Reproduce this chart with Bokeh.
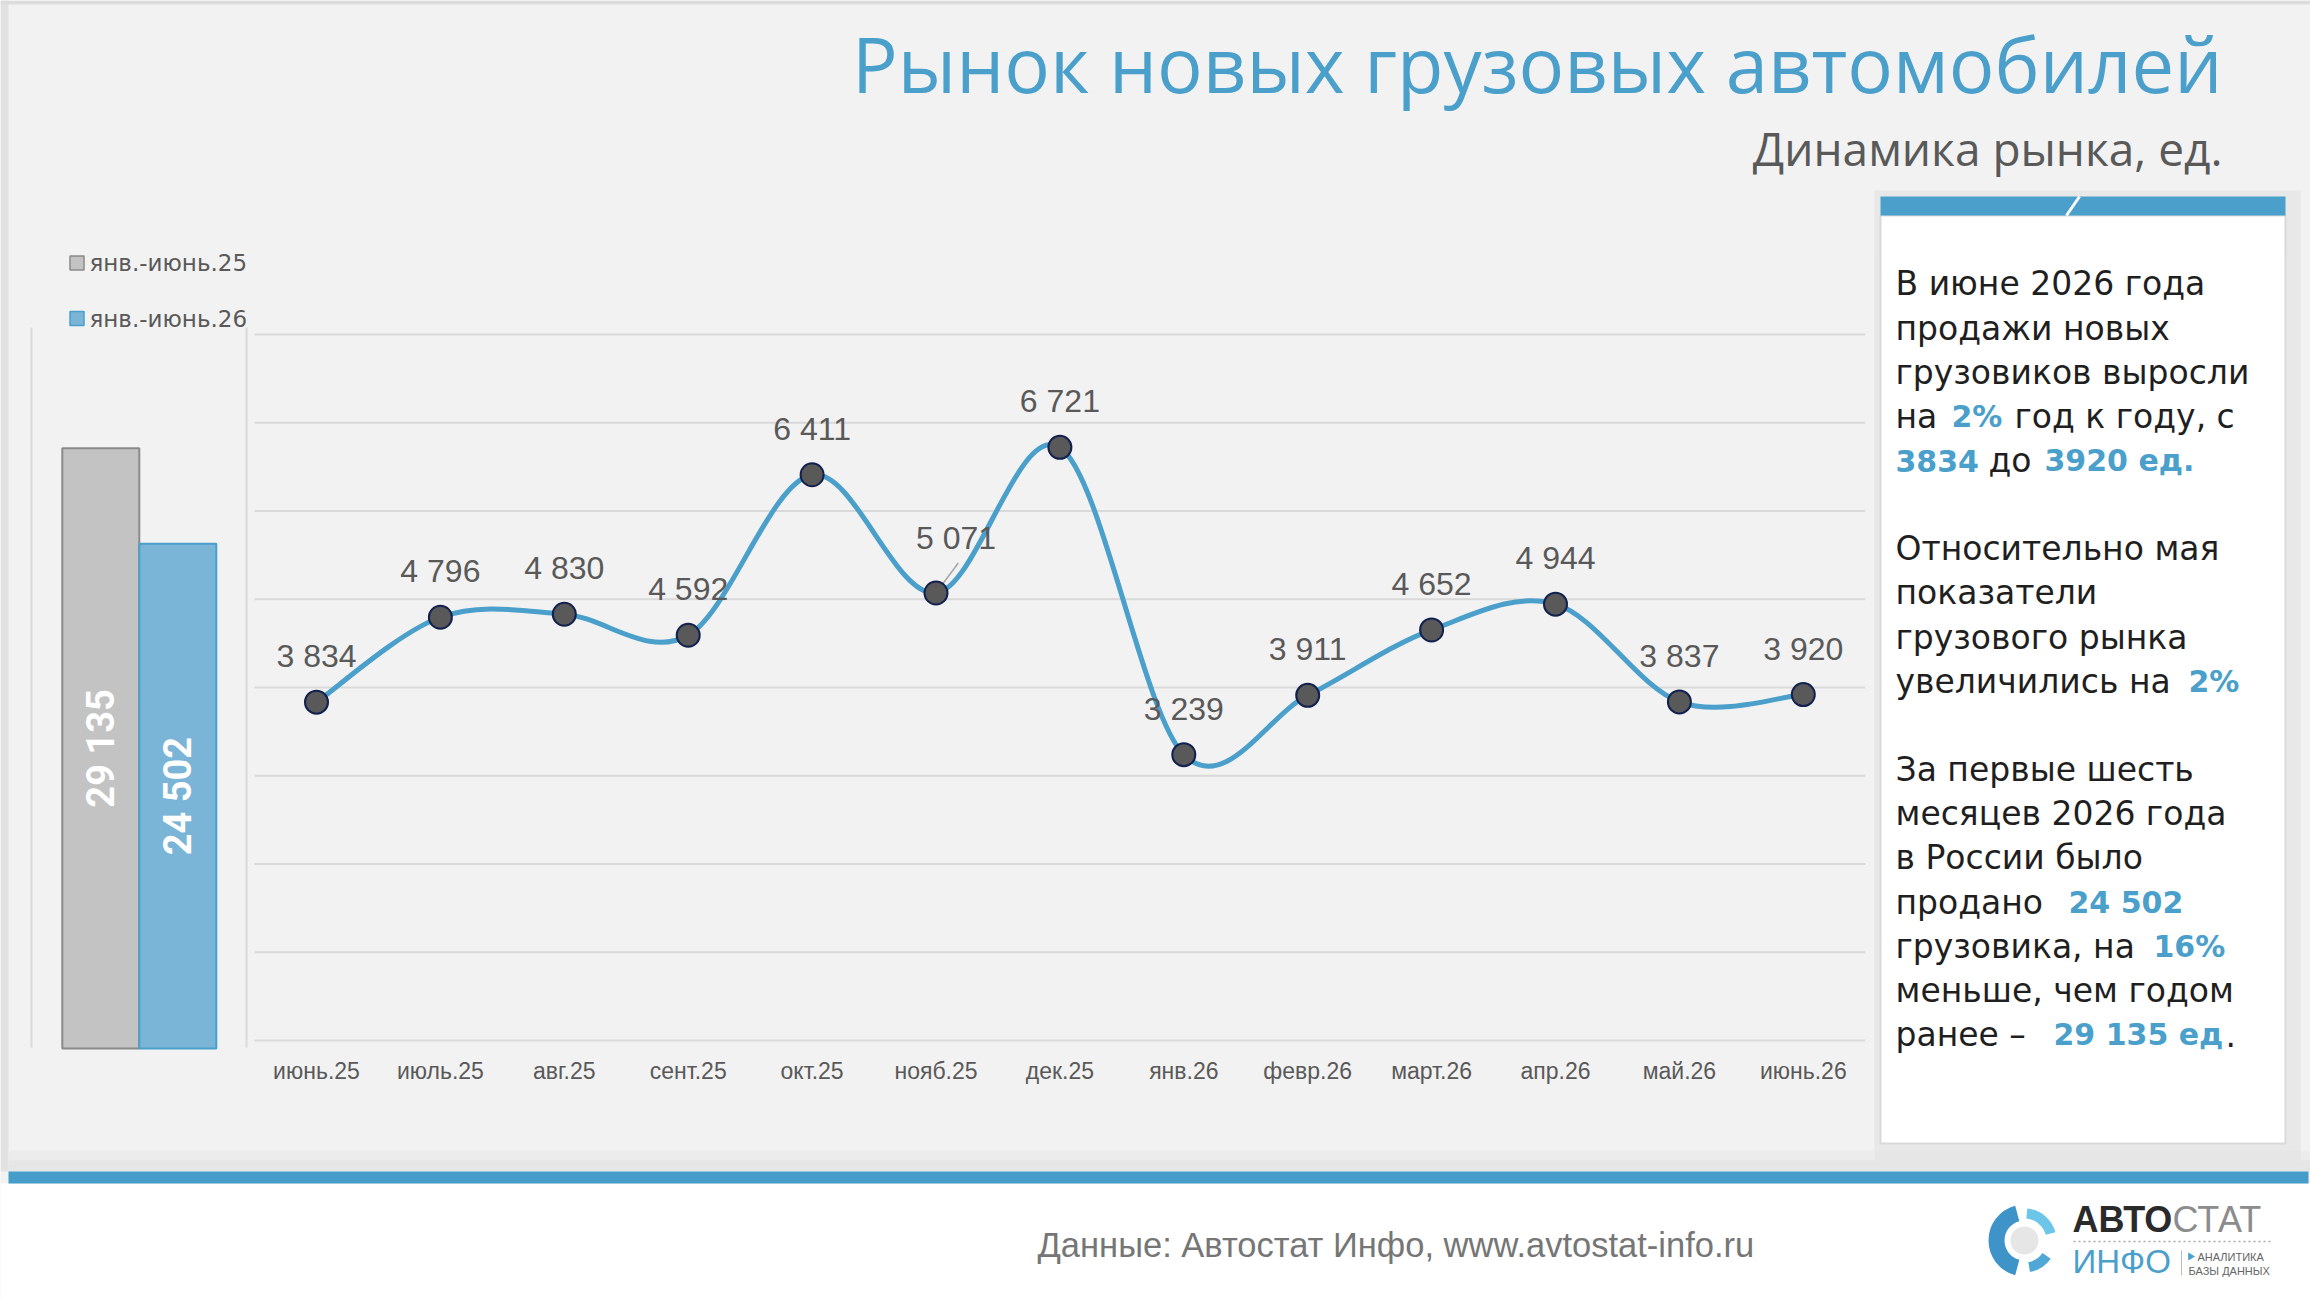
import math
import numpy as np
from bokeh.plotting import figure
from bokeh.models import Range1d, ColumnDataSource
from bokeh.core.properties import value
from bokeh.embed import file_html
from bokeh.resources import INLINE

# ---------------- data ----------------
months = ["июнь.25", "июль.25", "авг.25", "сент.25", "окт.25", "нояб.25", "дек.25",
          "янв.26", "февр.26", "март.26", "апр.26", "май.26", "июнь.26"]
sales = [3834, 4796, 4830, 4592, 6411, 5071, 6721, 3239, 3911, 4652, 4944, 3837, 3920]
ytd_labels = ["янв.-июнь.25", "янв.-июнь.26"]
ytd_values = [29135, 24502]
y_ticks = [0, 1000, 2000, 3000, 4000, 5000, 6000, 7000, 8000]

title_text = "Рынок новых грузовых автомобилей"
subtitle_text = "Динамика рынка, ед."
footer_text = "Данные: Автостат Инфо, www.avtostat-info.ru"

# ---------------- style / layout ----------------
W, H = 2310, 1300
BLUE = "#4A9FCB"
GRAY_TXT = "#595959"
GRID = "#D9D9D9"

L_X0, L_CAT = 316.0, 123.9
L_BOTTOM, L_TOP, L_YMAX = 1040.0, 334.0, 8000.0
B_X0, B_W = 100.3, 77.0
B_BOTTOM, B_TOP, B_YMAX = 1048.0, 327.0, 35000.0


def fmt(v):
    return f"{v:,}".replace(",", " ")


def base(y, size):
    # place the alphabetic baseline of a text of the given px size at y
    return y - 0.39 * size


p = figure(width=W, height=H, x_range=Range1d(0, W), y_range=Range1d(H, 0),
           x_axis_type=None, y_axis_type=None, toolbar_location=None,
           output_backend="svg", min_border=0, title=None,
           background_fill_color="#F2F2F2", border_fill_color="#F2F2F2",
           outline_line_color=None)

kx = L_CAT
ky = (L_BOTTOM - L_TOP) / L_YMAX
p.extra_x_ranges["mx"] = Range1d(-L_X0 / kx, (W - L_X0) / kx)
p.extra_y_ranges["my"] = Range1d((L_BOTTOM - H) / ky, L_BOTTOM / ky)
kb = (B_BOTTOM - B_TOP) / B_YMAX
p.extra_x_ranges["bx"] = Range1d(-B_X0 / B_W, (W - B_X0) / B_W)
p.extra_y_ranges["by"] = Range1d((B_BOTTOM - H) / kb, B_BOTTOM / kb)

# ---------------- slide decoration ----------------
p.quad(left=[0], right=[8], top=[0], bottom=[1171], fill_color="#E2E2E2", line_color=None)
p.quad(left=[0], right=[W], top=[0], bottom=[4], fill_color="#DCDCDC", line_color=None)
p.quad(left=[8], right=[W], top=[1150], bottom=[1171], fill_color="#ECECEC", line_color=None)
p.quad(left=[8], right=[W], top=[1160], bottom=[1171], fill_color="#E6E6E6", line_color=None)
p.quad(left=[0], right=[W], top=[1183], bottom=[H], fill_color="#FFFFFF", line_color=None)
p.quad(left=[8], right=[2308], top=[1171], bottom=[1183], fill_color="#479DC9", line_color=None)

# title & subtitle
p.text(x=[2222], y=[base(93, 76)], text=[title_text], text_align="right", text_baseline="alphabetic",
       text_font=value("Open Sans"), text_font_size="76px", text_color=BLUE)
p.text(x=[2222], y=[base(165, 46)], text=[subtitle_text], text_align="right", text_baseline="alphabetic",
       text_font=value("Open Sans"), text_font_size="46px", text_color=GRAY_TXT)

# ---------------- right info panel ----------------
p.quad(left=[1874], right=[2300], top=[190], bottom=[1160], fill_color="#E4E4E4", line_color=None, fill_alpha=0.7)
p.quad(left=[1880], right=[2285], top=[215], bottom=[1143], fill_color="#FFFFFF",
       line_color="#D9D9D9", line_width=2)
p.quad(left=[1880], right=[2285], top=[196], bottom=[215], fill_color=BLUE, line_color=None)
p.segment(x0=[2066], y0=[215], x1=[2079], y1=[196], line_color="#FFFFFF", line_width=3)

LINE0, LSTEP = 296.3, 44.15
segments = [
    (0, 1895, "В июне 2026 года", False),
    (1, 1895, "продажи новых", False),
    (2, 1895, "грузовиков выросли", False),
    (3, 1895, "на", False), (3, 1951, "2%", True), (3, 2014, "год к году, с", False),
    (4, 1895, "3834", True), (4, 1988, "до", False), (4, 2044, "3920 ед.", True),
    (6, 1895, "Относительно мая", False),
    (7, 1895, "показатели", False),
    (8, 1895, "грузового  рынка", False),
    (9, 1895, "увеличились на", False), (9, 2188, "2%", True),
    (11, 1895, "За первые шесть", False),
    (12, 1895, "месяцев 2026 года", False),
    (13, 1895, "в России было", False),
    (14, 1895, "продано", False), (14, 2068, "24 502", True),
    (15, 1895, "грузовика, на", False), (15, 2153, "16%", True),
    (16, 1895, "меньше, чем годом", False),
    (17, 1895, "ранее –", False), (17, 2053, "29 135 ед", True), (17, 2225, ".", False),
]
reg = [s for s in segments if not s[3]]
bld = [s for s in segments if s[3]]
p.text(x=[s[1] for s in reg], y=[base(LINE0 + LSTEP * s[0], 33) for s in reg], text=[s[2] for s in reg],
       text_align="left", text_baseline="alphabetic", text_font=value("DejaVu Sans"),
       text_font_size="33px", text_color="#1F1F1F")
p.text(x=[s[1] for s in bld], y=[base(LINE0 + LSTEP * s[0], 33) for s in bld], text=[s[2] for s in bld],
       text_align="left", text_baseline="alphabetic", text_font=value("DejaVu Sans"),
       text_font_style="bold", text_font_size="30px", text_color=BLUE)

# ---------------- bar chart (Jan-Jun totals) ----------------
p.segment(x0=[31, 246], y0=[327, 327], x1=[31, 246], y1=[1047, 1047], line_color=GRID, line_width=2)
bar_src = ColumnDataSource(dict(x=[0, 1], top=ytd_values, half=[v / 2 for v in ytd_values],
                                lbl=[fmt(v) for v in ytd_values],
                                fill=["#C3C3C3", "#7AB4D6"], line=["#8A8A8A", BLUE]))
p.vbar(x="x", top="top", bottom=0, width=1.0, source=bar_src, fill_color="fill",
       line_color="line", line_width=2, x_range_name="bx", y_range_name="by")
p.text(x="x", y="half", text="lbl", source=bar_src, angle=math.pi / 2, text_align="center",
       text_baseline="middle", text_font=value("Roboto"), text_font_style="bold",
       text_font_size="38px", text_color="#FFFFFF", x_range_name="bx", y_range_name="by")

# legend for bars
p.scatter(x=[76.5, 76.5], y=[262.6, 318], marker="square", size=14,
          fill_color=["#C3C3C3", "#7AB4D6"], line_color=["#8A8A8A", BLUE], line_width=1.5)
p.text(x=[89, 89], y=[262.6, 318], text=ytd_labels, text_align="left", text_baseline="middle",
       text_font=value("DejaVu Sans"), text_font_size="23px", text_color=GRAY_TXT)

# ---------------- line chart ----------------
n = len(sales)
idx = list(range(n))
p.segment(x0=[-0.5] * len(y_ticks), x1=[n - 0.5] * len(y_ticks), y0=y_ticks, y1=y_ticks,
          line_color=GRID, line_width=2, x_range_name="mx", y_range_name="my")

P = np.column_stack([np.arange(n, dtype=float), np.array(sales, dtype=float)])
bz = dict(x0=[], y0=[], x1=[], y1=[], cx0=[], cy0=[], cx1=[], cy1=[])
for i in range(n - 1):
    a = P[i - 1] if i > 0 else P[i]
    d = P[i + 2] if i + 2 < n else P[i + 1]
    c1 = P[i] + (P[i + 1] - a) / 6.0
    c2 = P[i + 1] - (d - P[i]) / 6.0
    bz["x0"].append(P[i][0]); bz["y0"].append(P[i][1])
    bz["x1"].append(P[i + 1][0]); bz["y1"].append(P[i + 1][1])
    bz["cx0"].append(c1[0]); bz["cy0"].append(c1[1])
    bz["cx1"].append(c2[0]); bz["cy1"].append(c2[1])
p.bezier(source=ColumnDataSource(bz), x0="x0", y0="y0", x1="x1", y1="y1", cx0="cx0", cy0="cy0",
         cx1="cx1", cy1="cy1", line_color=BLUE, line_width=5, line_cap="round",
         x_range_name="mx", y_range_name="my")

lead_i = 5
p.segment(x0=[idx[lead_i] + 0.01], y0=[sales[lead_i] + 20], x1=[idx[lead_i] + 0.18],
          y1=[sales[lead_i] + 340], line_color="#A6A6A6", line_width=1.5,
          x_range_name="mx", y_range_name="my")

p.scatter(x=idx, y=sales, size=23, fill_color="#595959", line_color="#13214F", line_width=2,
          x_range_name="mx", y_range_name="my")

xo = [0] * n
yo = [-46] * n
xo[lead_i] = 20
yo[lead_i] = -55
lab_src = ColumnDataSource(dict(x=idx, y=sales, t=[fmt(v) for v in sales], xo=xo, yo=yo))
p.text(x="x", y="y", text="t", source=lab_src, x_offset="xo", y_offset="yo",
       text_align="center", text_baseline="middle", text_font=value("Liberation Sans"),
       text_font_size="32px", text_color=GRAY_TXT, x_range_name="mx", y_range_name="my")

p.text(x=idx, y=[0] * n, text=months, y_offset=30, text_align="center", text_baseline="middle",
       text_font=value("Liberation Sans"), text_font_size="23px", text_color=GRAY_TXT,
       x_range_name="mx", y_range_name="my")

# ---------------- footer ----------------
p.text(x=[1037], y=[base(1258, 34.5)], text=[footer_text], text_align="left", text_baseline="alphabetic",
       text_font=value("Liberation Sans"), text_font_size="34.5px", text_color="#767676")

# logo
p.annular_wedge(x=[2024], y=[1240], inner_radius=20, outer_radius=36,
                start_angle=math.radians(105), end_angle=math.radians(255),
                fill_color="#3E93C8", line_color=None)
p.annular_wedge(x=[2024], y=[1240], inner_radius=22, outer_radius=32,
                start_angle=math.radians(15), end_angle=math.radians(85),
                fill_color="#6CC6EA", line_color=None)
p.annular_wedge(x=[2024], y=[1240], inner_radius=22, outer_radius=32,
                start_angle=math.radians(-80), end_angle=math.radians(-35),
                fill_color="#4FA8D6", line_color=None)
p.circle(x=[2024], y=[1240], radius=14, fill_color="#E6E6E6", line_color=None)
p.text(x=[2072], y=[base(1233, 36)], text=["АВТО"], text_align="left", text_baseline="alphabetic",
       text_font=value("Liberation Sans"), text_font_style="bold", text_font_size="36px",
       text_color="#2A2A2A")
p.text(x=[2172], y=[base(1233, 36)], text=["СТАТ"], text_align="left", text_baseline="alphabetic",
       text_font=value("Liberation Sans"), text_font_size="36px", text_color="#8C8C8C")
p.segment(x0=[2073], y0=[1241], x1=[2271], y1=[1241], line_color="#AAAAAA", line_width=1.5,
          line_dash="2 3")
p.text(x=[2072], y=[base(1274, 33)], text=["ИНФО"], text_align="left", text_baseline="alphabetic",
       text_font=value("Liberation Sans"), text_font_size="33px", text_color=BLUE)
p.segment(x0=[2181], y0=[1250], x1=[2181], y1=[1275], line_color="#BBBBBB", line_width=1)
p.scatter(x=[2190], y=[1256], marker="triangle", angle=-math.pi / 2, size=8,
          fill_color=BLUE, line_color=None)
p.text(x=[2197, 2188], y=[1256, 1270], text=["АНАЛИТИКА", "БАЗЫ ДАННЫХ"], text_align="left",
       text_baseline="middle", text_font=value("Liberation Sans"), text_font_size="11px",
       text_color="#666666")

open("out.html", "w").write(file_html(p, INLINE))
